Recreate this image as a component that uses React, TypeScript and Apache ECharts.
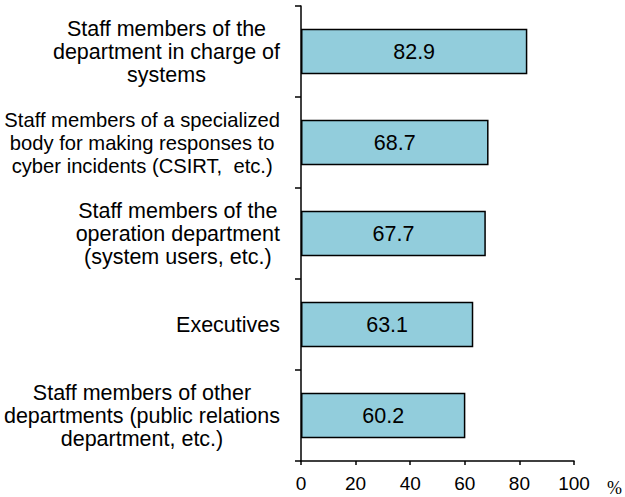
import React, { useEffect, useRef } from "react";
import * as echarts from "echarts";

const categories = [
  "Staff members of the\ndepartment in charge of\nsystems",
  "Staff members of a specialized\nbody for making responses to\ncyber incidents (CSIRT,  etc.)",
  "Staff members of the\noperation department\n(system users, etc.)",
  "Executives",
  "Staff members of other\ndepartments (public relations\ndepartment, etc.)",
];
const values = [82.9, 68.7, 67.7, 63.1, 60.2];
const xTicks = { min: 0, max: 100, interval: 20 };
const unitLabel = "%";

export default function App() {
  const ref = useRef<HTMLDivElement>(null);
  useEffect(() => {
    if (!ref.current) return;
    const chart = echarts.init(ref.current, null, { renderer: "svg" });
    const font = "Liberation Sans, Arial, sans-serif";
    chart.setOption({
      animation: false,
      grid: { left: 301, right: 51, top: 6, bottom: 36, containLabel: false, outerBoundsMode: "none" },
      xAxis: {
        type: "value",
        min: xTicks.min,
        max: xTicks.max,
        interval: xTicks.interval,
        splitLine: { show: false },
        axisLine: { show: true, lineStyle: { color: "#000", width: 1.5 } },
        axisTick: { show: true, length: 4, lineStyle: { color: "#000", width: 1.5 } },
        axisLabel: { color: "#000", fontFamily: font, fontSize: 19, margin: 13 },
      },
      yAxis: {
        type: "category",
        inverse: true,
        data: categories,
        axisLine: { show: true, lineStyle: { color: "#000", width: 1.5 } },
        axisTick: { show: true, length: 6, lineStyle: { color: "#000", width: 1.5 } },
        axisLabel: {
          color: "#000",
          fontFamily: font,
          fontSize: 21.5,
          margin: 21,
          align: "right",
          formatter: (v: string) => {
            const lines = v.split("\n");
            const widest = Math.max(...lines.map((l) => l.length));
            const key = widest > 29 ? "n" : "c";
            return lines.map((l) => `{${key}|${l}}`).join("\n");
          },
          rich: {
            c: { align: "center", fontFamily: font, fontSize: 21.5, lineHeight: 23, color: "#000" },
            n: { align: "center", fontFamily: font, fontSize: 20.2, lineHeight: 23, color: "#000" },
          },
        },
      },
      series: [
        {
          type: "bar",
          data: values,
          barWidth: "50%",
          itemStyle: { color: "#92CDDC", borderColor: "#000", borderWidth: 1.5 },
          label: {
            show: true,
            position: "inside",
            color: "#000",
            fontFamily: font,
            fontSize: 21.5,
            formatter: (p: any) => p.value.toFixed(1),
          },
        },
      ],
      graphic: [
        {
          type: "text",
          left: 607,
          top: 479,
          style: { text: unitLabel, fontFamily: "Liberation Serif, serif", fontSize: 18, fill: "#000" },
        },
      ],
    });
    return () => chart.dispose();
  }, []);
  return <div ref={ref} style={{ width: 625, height: 497, position: "absolute", left: 0, top: 0 }} />;
}
